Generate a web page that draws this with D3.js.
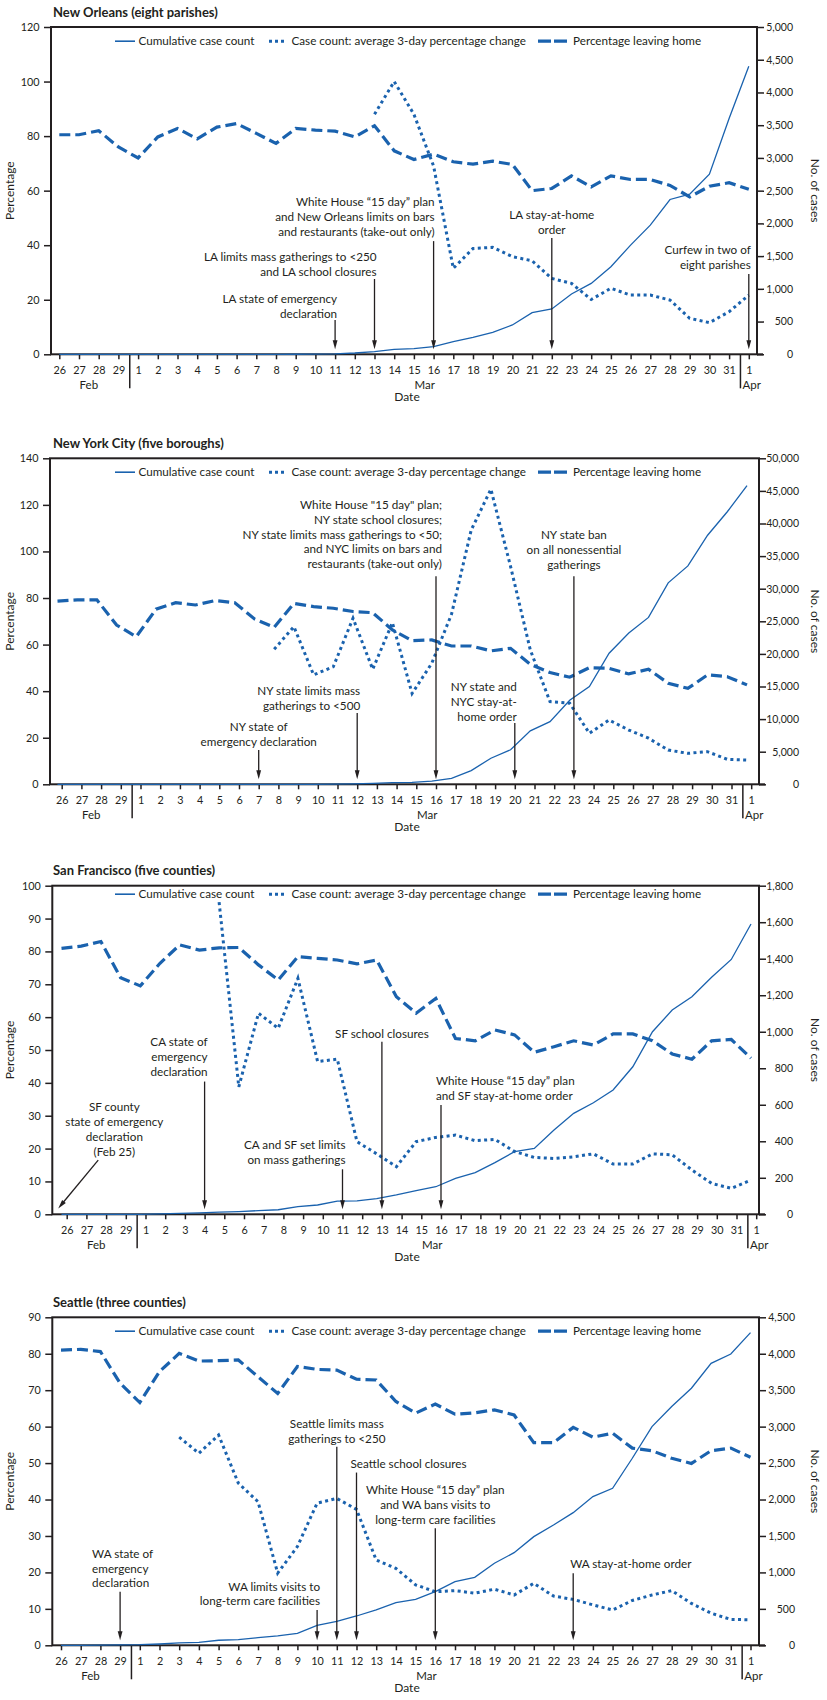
<!DOCTYPE html>
<html>
<head>
<meta charset="utf-8">
<script src="https://cdn.jsdelivr.net/npm/d3@7"></script>
<style>
  body { margin: 0; background: #fff; }
  svg text { font-family: Lato, "Open Sans", sans-serif; fill: #231f20; }
</style>
</head>
<body>
<script>
// x axis: Feb 26 -> Apr 1
const dayLabels = ['26', '27', '28', '29',
  '1', '2', '3', '4', '5', '6', '7', '8', '9', '10', '11', '12', '13', '14', '15', '16',
  '17', '18', '19', '20', '21', '22', '23', '24', '25', '26', '27', '28', '29', '30', '31', '1'];

// New Orleans
const noLeaving = [80.5, 80.5, 82, 76, 72, 79.7, 82.8, 79, 83.3, 84.6, 81, 77.3, 82.8, 82.2, 81.8, 79.7, 83.8, 74.6,
  71.4, 73.4, 70.6, 69.7, 70.8, 69.6, 60, 60.8, 65.4, 61.4, 65.4, 64.1, 64.1, 61.9, 57.7, 61.6, 62.9, 60.5];
const noChange = [null, null, null, null, null, null, null, null, null, null, null, null, null, null, null, null,
  88, 100, 88, 69, 31.5, 38.8, 39.2, 35.8, 34.3, 27.8, 26, 20.1, 24.2, 21.7, 21.7, 19.9, 13.2, 11.6, 15.6, 21.7];
const noCases = [0, 0, 0, 0, 0, 0, 0, 0, 0, 0, 0, 0, 1, 3, 8, 20, 40, 76, 88, 117, 193, 259, 336, 448,
  636, 692, 921, 1083, 1338, 1668, 1973, 2365, 2447, 2752, 3601, 4400];

// New York City
const nycLeaving = [78.7, 79.2, 79.2, 68.4, 63.4, 75.2, 78, 77, 78.9, 78, 71, 67.4, 77.7, 76.3, 75.6, 74.2, 73.7, 66.3,
  61.7, 62, 59.4, 59.4, 57.3, 58.4, 51.5, 48, 46, 50.1, 49.8, 47.4, 49.4, 43.4, 41.2, 47, 46.2, 42.7];
const nycChange = [null, null, null, null, null, null, null, null, null, null, null,
  58, 67.7, 47, 50.5, 71.3, 49.4, 69.4, 39, 52, 73, 109.2, 126.7, 93.5, 57.7, 35.5, 34.8, 21.9, 27.6, 23.3,
  19.8, 14.7, 13.3, 14, 10.7, 10.4];
const nycCases = [0, 0, 0, 0, 0, 0, 0, 0, 0, 0, 0, 0, 0, 0, 30, 60, 150, 250, 300, 500, 900, 2100, 4000, 5300,
  8200, 9600, 12900, 15000, 20100, 23200, 25600, 30900, 33500, 38200, 41800, 45800];

// San Francisco
const sfLeaving = [80.9, 81.6, 83, 72, 69.5, 76.4, 82, 80.4, 81.1, 81.2, 75.9, 71.3, 78.4, 77.9, 77.4, 76.2, 77.4, 66.2,
  61.2, 65.7, 53.5, 52.8, 56.1, 54.6, 49.3, 51, 52.8, 51.5, 54.9, 54.9, 52.8, 48.8, 47.2, 52.8, 53.2, 47.5];
const sfChange = [null, null, null, null, null, null, null, null,
  95, 38.8, 61.2, 56.6, 71.8, 46.5, 47.2, 22.1, 18.4, 14.5, 22.1, 23.4, 24.1, 22.4, 22.8, 19.1, 17.3, 17,
  17.5, 18.4, 15.3, 15.3, 18.4, 18.1, 13.5, 9.4, 7.9, 10.4];
const sfCases = [0, 0, 0, 0, 0, 2, 5, 8, 12, 15, 20, 25, 42, 51, 72, 74, 86, 106, 130, 151, 197, 228, 283, 343,
  361, 462, 553, 611, 681, 808, 1000, 1119, 1192, 1298, 1396, 1590];

// Seattle
const seaLeaving = [81, 81.2, 80.6, 71.9, 66.6, 75.1, 80.1, 78, 78.1, 78.3, 73.7, 69.1, 76.5, 75.7, 75.5, 73, 72.8, 66.9,
  63.7, 66.2, 63.4, 63.8, 64.6, 63.2, 55.6, 55.6, 59.8, 57.1, 58.2, 54.1, 53.4, 51.3, 49.9, 53.4, 54.1, 51.6];
const seaChange = [null, null, null, null, null, null,
  57.1, 52.7, 57.7, 44.5, 39.4, 19.8, 27.1, 39, 40.3, 37.3, 23.4, 21.1, 16.6, 14.7, 15, 14.3, 15.4, 13.8, 17,
  13.5, 12.6, 11.1, 9.7, 12.3, 13.8, 15, 11.5, 8.8, 7.1, 7];
const seaCases = [0, 0, 3, 6, 9, 18, 32, 41, 69, 78, 105, 128, 165, 274, 329, 402, 485, 585, 631, 736, 873, 933,
  1125, 1271, 1491, 1651, 1820, 2040, 2154, 2566, 3000, 3275, 3527, 3869, 3997, 4290];

const legendLabels = ['Cumulative case count', 'Case count: average 3-day percentage change', 'Percentage leaving home'];

const width = 827;
const height = 1700;
const blue = '#1a62ae';
const ink = '#231f20';
const span = 689.5; // px between first and last date tick
const noteSize = '11.7px';

const panels = [
  {
    title: 'New Orleans (eight parishes)', leaving: noLeaving, change: noChange, cases: noCases,
    top: 27, bottom: 354.3, left: 51, right: 757, tickX0: 59.3, dataX0: 59.3,
    pctMax: 120, pctStep: 20, caseMax: 5000, caseStep: 500, rightLabelX: 793, legendDy: 18,
    notes: [
      { day: 14, top: 12.6, anchor: 'end', dx: 2, y: 18.8, lines: ['LA state of emergency', 'declaration'] },
      { day: 16, top: 27.6, anchor: 'end', dx: 2, y: 34.2, lines: ['LA limits mass gatherings to <250', 'and LA school closures'] },
      { day: 19, top: 41.5, anchor: 'end', dx: 1, y: 54.3, lines: ['White House “15 day” plan', 'and New Orleans limits on bars', 'and restaurants (take-out only)'] },
      { day: 25, top: 42.6, anchor: 'middle', dx: 0, y: 49.6, lines: ['LA stay-at-home', 'order'] },
      { day: 35, top: 29.4, anchor: 'end', dx: 2, y: 36.7, lines: ['Curfew in two of', 'eight parishes'] }
    ]
  },
  {
    title: 'New York City (five boroughs)', leaving: nycLeaving, change: nycChange, cases: nycCases,
    top: 458.3, bottom: 784.3, left: 50, right: 759, tickX0: 61.7, dataX0: 57.5,
    pctMax: 140, pctStep: 20, caseMax: 50000, caseStep: 5000, rightLabelX: 799, legendDy: 17.7,
    notes: [
      { day: 10, top: 14.7, anchor: 'middle', dx: 0, y: 22.9, lines: ['NY state of', 'emergency declaration'] },
      { day: 15, top: 30.6, anchor: 'end', dx: 3, y: 38.3, lines: ['NY state limits mass', 'gatherings to <500'] },
      { day: 19, top: 89.4, anchor: 'end', dx: 6, y: 118.2, lines: ['White House "15 day" plan;', 'NY state school closures;', 'NY state limits mass gatherings to <50;', 'and NYC limits on bars and', 'restaurants (take-out only)'] },
      { day: 23, top: 26.3, anchor: 'end', dx: 2, y: 40.1, lines: ['NY state and', 'NYC stay-at-', 'home order'] },
      { day: 26, top: 89.4, anchor: 'middle', dx: 0, y: 105.3, lines: ['NY state ban', 'on all nonessential', 'gatherings'] }
    ]
  },
  {
    title: 'San Francisco (five counties)', leaving: sfLeaving, change: sfChange, cases: sfCases,
    top: 885.7, bottom: 1214.3, left: 52.3, right: 759, tickX0: 66.7, dataX0: 61.5,
    pctMax: 100, pctStep: 10, caseMax: 1800, caseStep: 200, rightLabelX: 793, legendDy: 12.3,
    notes: [
      { day: 2.42, top: null, slant: { x1: 1.6, y1: 16.5, x2: -0.43, y2: 1.8 }, anchor: 'middle', dx: 0, y: 31.4, lines: ['SF county', 'state of emergency', 'declaration', '(Feb 25)'] },
      { day: 7, top: 40.4, anchor: 'end', dx: 3, y: 51.2, lines: ['CA state of', 'emergency', 'declaration'] },
      { day: 14, top: 13.7, anchor: 'end', dx: 3, y: 19.9, lines: ['CA and SF set limits', 'on mass gatherings'] },
      { day: 16, top: 52.5, anchor: 'middle', dx: 0, y: 53.7, lines: ['SF school closures'] },
      { day: 19, top: 33.3, anchor: 'start', dx: -5, y: 39.4, lines: ['White House “15 day” plan', 'and SF stay-at-home order'] }
    ]
  },
  {
    title: 'Seattle (three counties)', leaving: seaLeaving, change: seaChange, cases: seaCases,
    top: 1317.3, bottom: 1645.3, left: 52.3, right: 759, tickX0: 61, dataX0: 61,
    pctMax: 90, pctStep: 10, caseMax: 4500, caseStep: 500, rightLabelX: 795, legendDy: 17.7,
    notes: [
      { day: 3, top: 14.7, anchor: 'start', dx: -28, y: 24, lines: ['WA state of', 'emergency', 'declaration'] },
      { day: 13, top: 9.7, anchor: 'end', dx: 3, y: 15, lines: ['WA limits visits to', 'long-term care facilities'] },
      { day: 14, top: 54.5, anchor: 'middle', dx: 0, y: 59.6, lines: ['Seattle limits mass', 'gatherings to <250'] },
      { day: 15, top: 47.4, anchor: 'start', dx: -6, y: 48.7, lines: ['Seattle school closures'] },
      { day: 19, top: 32.1, anchor: 'middle', dx: 0, y: 41.5, lines: ['White House “15 day” plan', 'and WA bans visits to', 'long-term care facilities'] },
      { day: 26, top: 19.8, anchor: 'start', dx: -3, y: 21.2, lines: ['WA stay-at-home order'] }
    ]
  }
];

const svg = d3.select('body')
  .append('svg')
  .attr('width', width)
  .attr('height', height);

const lineHeight = 14.8;

function arrow(g, x1, y1, x2, y2) {
  const ang = Math.atan2(y2 - y1, x2 - x1);
  const len = 9, half = 2.4;
  const bx = x2 - len * Math.cos(ang), by = y2 - len * Math.sin(ang);
  g.append('line')
    .attr('x1', x1).attr('y1', y1)
    .attr('x2', bx + 2 * Math.cos(ang)).attr('y2', by + 2 * Math.sin(ang))
    .attr('stroke', ink).attr('stroke-width', 1.3);
  g.append('path')
    .attr('d', `M${x2},${y2}L${bx - half * Math.sin(ang)},${by + half * Math.cos(ang)}L${bx + half * Math.sin(ang)},${by - half * Math.cos(ang)}Z`)
    .attr('fill', ink);
}

panels.forEach(p => {
  const g = svg.append('g');

  const xTick = d3.scaleLinear().domain([0, 35]).range([p.tickX0, p.tickX0 + span]);
  const xData = d3.scaleLinear().domain([0, 35]).range([p.dataX0, p.dataX0 + span]);
  const yL = d3.scaleLinear().domain([0, p.pctMax]).range([p.bottom, p.top]);
  const yR = d3.scaleLinear().domain([0, p.caseMax]).range([p.bottom, p.top]);

  // title
  g.append('text')
    .text(p.title)
    .attr('x', 53)
    .attr('y', p.top - 10.5)
    .attr('font-size', '13px')
    .attr('font-weight', 'bold');

  // left axis
  const left = g.append('g')
    .attr('transform', `translate(${p.left},0)`)
    .call(d3.axisLeft(yL).tickValues(d3.range(0, p.pctMax + 1, p.pctStep)).tickSize(7).tickPadding(4.5));
  left.select('.domain').remove();
  left.selectAll('line').attr('stroke', ink).attr('stroke-width', 1.5);
  left.selectAll('text').attr('font-size', '10.8px').attr('font-family', 'Lato, sans-serif').attr('fill', ink);

  // right axis
  const right = g.append('g')
    .attr('transform', `translate(${p.right},0)`)
    .call(d3.axisRight(yR).tickValues(d3.range(0, p.caseMax + 1, p.caseStep)).tickSize(7).tickFormat(d3.format(',')));
  right.select('.domain').remove();
  right.selectAll('line').attr('stroke', ink).attr('stroke-width', 1.5);
  right.selectAll('text')
    .attr('x', p.rightLabelX - p.right)
    .attr('text-anchor', 'end')
    .attr('font-size', '10.5px').attr('font-family', 'Lato, sans-serif').attr('fill', ink);

  // bottom axis
  const bottom = g.append('g')
    .attr('transform', `translate(0,${p.bottom})`)
    .call(d3.axisBottom(xTick).tickValues(d3.range(dayLabels.length)).tickFormat(i => dayLabels[i]).tickSize(5).tickPadding(7));
  bottom.select('.domain').remove();
  bottom.selectAll('line').attr('stroke', ink).attr('stroke-width', 1.5);
  bottom.selectAll('text').attr('font-size', '10.8px').attr('font-family', 'Lato, sans-serif').attr('fill', ink);

  // plot frame
  g.append('rect')
    .attr('x', p.left).attr('y', p.top)
    .attr('width', p.right - p.left).attr('height', p.bottom - p.top)
    .attr('fill', 'none').attr('stroke', ink).attr('stroke-width', 2);
  g.append('line')
    .attr('x1', p.right).attr('x2', p.right + 6)
    .attr('y1', p.bottom).attr('y2', p.bottom)
    .attr('stroke', ink).attr('stroke-width', 2);

  // month dividers and labels
  [3.5, 34.5].forEach(d => {
    g.append('line')
      .attr('x1', xTick(d) + 1.5).attr('x2', xTick(d) + 1.5)
      .attr('y1', p.bottom).attr('y2', p.bottom + 34)
      .attr('stroke', ink).attr('stroke-width', 1.5);
  });
  [['Feb', xTick(1.5)], ['Mar', xTick(18.55)], ['Apr', xTick(35) + 3]].forEach(([m, x]) => {
    g.append('text').text(m)
      .attr('x', x).attr('y', p.bottom + 35)
      .attr('text-anchor', 'middle')
      .attr('font-size', '11.5px');
  });
  g.append('text').text('Date')
    .attr('x', 407).attr('y', p.bottom + 47)
    .attr('text-anchor', 'middle')
    .attr('font-size', '12px');

  // axis titles
  const midY = (p.top + p.bottom) / 2;
  g.append('text').text('Percentage')
    .attr('transform', `translate(14,${midY}) rotate(-90)`)
    .attr('text-anchor', 'middle')
    .attr('font-size', '12px');
  g.append('text').text('No. of cases')
    .attr('transform', `translate(811,${midY}) rotate(90)`)
    .attr('text-anchor', 'middle')
    .attr('font-size', '12px');

  // series
  const idx = d3.range(dayLabels.length);
  const pctLine = arr => d3.line()
    .defined(i => arr[i] != null)
    .x(i => xData(i))
    .y(i => yL(arr[i]));
  const caseLine = d3.line()
    .x(i => xData(i))
    .y(i => yR(p.cases[i]));

  g.append('path')
    .attr('d', pctLine(p.leaving)(idx))
    .attr('fill', 'none').attr('stroke', blue)
    .attr('stroke-width', 3.2).attr('stroke-dasharray', '11,5');
  g.append('path')
    .attr('d', pctLine(p.change)(idx))
    .attr('fill', 'none').attr('stroke', blue)
    .attr('stroke-width', 3).attr('stroke-dasharray', '3,3.4');
  g.append('path')
    .attr('d', caseLine(idx))
    .attr('fill', 'none').attr('stroke', blue)
    .attr('stroke-width', 1.3);

  // legend
  const ly = p.top + p.legendDy;
  const legendStyles = [
    { x1: 115, x2: 135, tx: 138.5, w: 1.6, dash: null },
    { x1: 269, x2: 287, tx: 291.5, w: 3, dash: '3,3' },
    { x1: 538, x2: 567, tx: 573, w: 3.2, dash: '13,3' }
  ];
  legendStyles.forEach((s, i) => {
    g.append('line')
      .attr('x1', s.x1).attr('x2', s.x2)
      .attr('y1', ly - 3.8).attr('y2', ly - 3.8)
      .attr('stroke', blue).attr('stroke-width', s.w)
      .attr('stroke-dasharray', s.dash);
    g.append('text').text(legendLabels[i])
      .attr('x', s.tx).attr('y', ly)
      .attr('font-size', noteSize);
  });

  // policy annotations
  p.notes.forEach(n => {
    const ax = xTick(n.day);
    if (n.slant) {
      arrow(g, xTick(n.slant.x1), yL(n.slant.y1), xTick(n.slant.x2), yL(n.slant.y2));
    } else {
      arrow(g, ax, yL(n.top), ax, p.bottom - 5);
    }
    const t = g.append('text')
      .attr('text-anchor', n.anchor)
      .attr('font-size', noteSize);
    n.lines.forEach((ln, k) => {
      t.append('tspan')
        .attr('x', ax + n.dx)
        .attr('y', yL(n.y) + k * lineHeight)
        .text(ln);
    });
  });
});
</script>
</body>
</html>
